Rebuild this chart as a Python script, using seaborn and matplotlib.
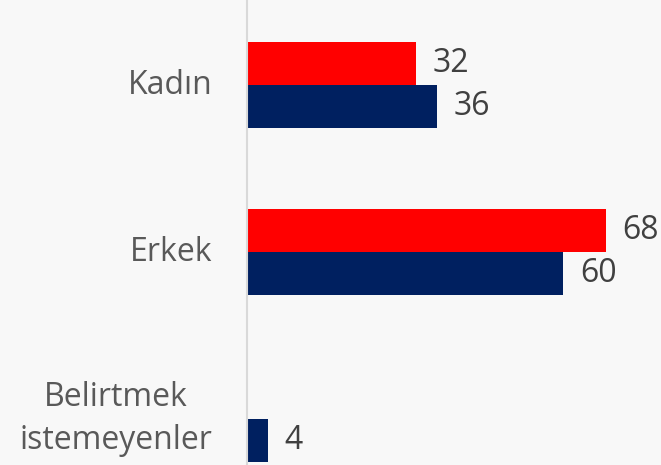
import numpy as np
import pandas as pd
import matplotlib
matplotlib.use("Agg")
import matplotlib.pyplot as plt
import seaborn as sns

categories = ["Kadın", "Erkek", "Belirtmek\nistemeyenler"]
series_names = ["Seri 1", "Seri 2"]
red_values = [32, 68, np.nan]
navy_values = [36, 60, 4]

df = pd.DataFrame({
    "kategori": categories * 2,
    "seri": [series_names[0]] * 3 + [series_names[1]] * 3,
    "deger": red_values + navy_values,
})

sns.set_style("white")
plt.rcParams["font.family"] = ["Open Sans", "DejaVu Sans"]

bg = "#f8f8f8"
fig = plt.figure(figsize=(6.61, 4.65), dpi=100, facecolor=bg)
ax = fig.add_axes([247 / 661, 0, 1 - 247 / 661, 1])
ax.set_facecolor(bg)

sns.barplot(data=df, y="kategori", x="deger", hue="seri", order=categories,
            hue_order=series_names, palette=["#ff0000", "#002060"],
            saturation=1, orient="h", width=0.515, linewidth=0,
            errorbar=None, legend=False, ax=ax)

for cont in ax.containers:
    labels = ["" if np.isnan(v) else f"{v:.0f}" for v in cont.datavalues]
    ax.bar_label(cont, labels=labels, padding=12, fontsize=23, color="#404040")

ax.set_xlim(0, 78.5)
ax.set_ylim(2.275, -0.509)
ax.set_xlabel("")
ax.set_ylabel("")
ax.set_xticks([])
ax.tick_params(axis="y", length=0, pad=25, labelsize=23, labelcolor="#595959")
for lbl in ax.get_yticklabels():
    lbl.set_multialignment("center")
    lbl.set_linespacing(1.4)
    lbl.set_verticalalignment("center")

for s in ["top", "right", "bottom"]:
    ax.spines[s].set_visible(False)
ax.spines["left"].set_color("#d9d9d9")
ax.spines["left"].set_linewidth(1.5)

fig.savefig("out.png", dpi=100, facecolor=bg)
